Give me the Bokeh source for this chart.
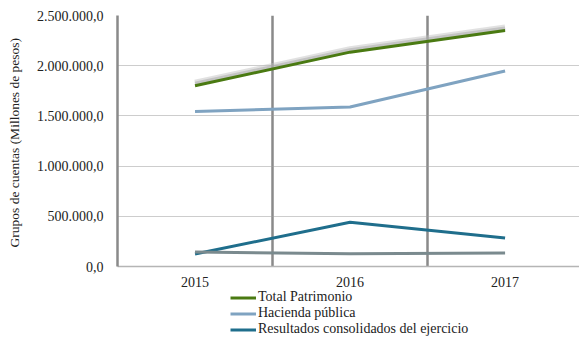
from bokeh.plotting import figure
from bokeh.layouts import column
from bokeh.models import Range1d, FixedTicker, Legend, LegendItem, ColumnDataSource
from bokeh.transform import dodge
from bokeh.embed import file_html
from bokeh.resources import INLINE

years = ["2015", "2016", "2017"]
total_patrimonio = [1800000, 2135000, 2350000]
hacienda_publica = [1545000, 1588000, 1948000]
resultados = [125000, 440000, 285000]
otros = [145000, 126000, 135000]
y_ticks = [0, 500000, 1000000, 1500000, 2000000, 2500000]
y_tick_labels = ["0,0", "500.000,0", "1.000.000,0", "1.500.000,0", "2.000.000,0", "2.500.000,0"]
legend_labels = ["Total Patrimonio", "Hacienda pública", "Resultados consolidados del ejercicio"]

x = [i + 0.5 for i in range(len(years))]
src = ColumnDataSource(dict(x=x, tp=total_patrimonio, hp=hacienda_publica, rc=resultados, ot=otros))

FONT = "Liberation Serif"
C_TP, C_HP, C_RC, C_OT = "#4a7a12", "#7fa3c1", "#1f6e8c", "#7a8a8e"

p = figure(width=579, height=289, output_backend="svg", toolbar_location=None,
           x_range=Range1d(0, 2.98), y_range=Range1d(0, 2500000),
           min_border_left=117, min_border_right=0, min_border_top=15, min_border_bottom=23)
p.outline_line_color = None
p.background_fill_color = "white"

# grids
p.ygrid.ticker = FixedTicker(ticks=y_ticks)
p.ygrid.grid_line_color = "#9a9a9a"
p.ygrid.grid_line_dash = "1 1"
p.ygrid.grid_line_width = 1
p.xgrid.ticker = FixedTicker(ticks=[1, 2])
p.xgrid.grid_line_color = "#8a8a8a"
p.xgrid.grid_line_width = 2.5

# axes
p.yaxis.ticker = FixedTicker(ticks=y_ticks)
p.yaxis.major_label_overrides = {t: l for t, l in zip(y_ticks, y_tick_labels)}
p.yaxis.axis_line_color = "#8a8a8a"
p.yaxis.axis_line_width = 2.5
p.yaxis.major_tick_line_color = None
p.yaxis.minor_tick_line_color = None
p.yaxis.major_label_standoff = 8
p.yaxis.major_label_text_font = FONT
p.yaxis.major_label_text_font_size = "14px"
p.yaxis.major_label_text_color = "#222222"
p.yaxis.axis_label = "Grupos de cuentas (Millones  de pesos)"
p.yaxis.axis_label_text_font = FONT
p.yaxis.axis_label_text_font_size = "13.5px"
p.yaxis.axis_label_text_font_style = "normal"
p.yaxis.axis_label_text_color = "#222222"
p.yaxis.axis_label_standoff = 12

p.xaxis.ticker = FixedTicker(ticks=x)
p.xaxis.major_label_overrides = {xx: y for xx, y in zip(x, years)}
p.xaxis.axis_line_color = "#b5b5b5"
p.xaxis.axis_line_width = 1.5
p.xaxis.major_tick_line_color = None
p.xaxis.minor_tick_line_color = None
p.xaxis.major_label_standoff = 4
p.xaxis.major_label_text_font = FONT
p.xaxis.major_label_text_font_size = "14px"
p.xaxis.major_label_text_color = "#222222"

# shadow of Total Patrimonio
p.line(x="x", y=dodge("tp", 30000, range=p.y_range), source=src, line_color="#bdbdbd", line_width=6, line_alpha=0.45)
p.line(x="x", y=dodge("tp", 20000, range=p.y_range), source=src, line_color="#a8a8a8", line_width=4, line_alpha=0.5)

p.line(x="x", y="tp", source=src, line_color=C_TP, line_width=3)
p.line(x="x", y="hp", source=src, line_color=C_HP, line_width=3)
p.line(x="x", y="rc", source=src, line_color=C_RC, line_width=3)
p.line(x="x", y="ot", source=src, line_color=C_OT, line_width=3)

# legend strip below the chart (series drawn out of view, only their legend entries show)
lf = figure(width=579, height=48, output_backend="svg", toolbar_location=None,
            x_range=Range1d(0, 2.98), y_range=Range1d(-2, -1),
            x_axis_type=None, y_axis_type=None,
            min_border_left=0, min_border_right=0, min_border_top=0, min_border_bottom=0)
lf.outline_line_color = None
lf.background_fill_color = "white"
l_tp = lf.line(x="x", y="tp", source=src, line_color=C_TP, line_width=3)
l_hp = lf.line(x="x", y="hp", source=src, line_color=C_HP, line_width=3)
l_rc = lf.line(x="x", y="rc", source=src, line_color=C_RC, line_width=3)

legend = Legend(items=[
    LegendItem(label=legend_labels[0], renderers=[l_tp]),
    LegendItem(label=legend_labels[1], renderers=[l_hp]),
    LegendItem(label=legend_labels[2], renderers=[l_rc]),
], location=(113, 0), orientation="vertical", padding=0, margin=0, spacing=0,
    label_text_font=FONT, label_text_font_size="14px", label_text_color="#222222",
    glyph_width=26, glyph_height=15, label_height=15, label_standoff=2,
    background_fill_alpha=0, border_line_color=None)
lf.add_layout(legend, "center")

layout = column(p, lf, spacing=0)

html = file_html(layout, INLINE)
open("out.html", "w").write(html)
